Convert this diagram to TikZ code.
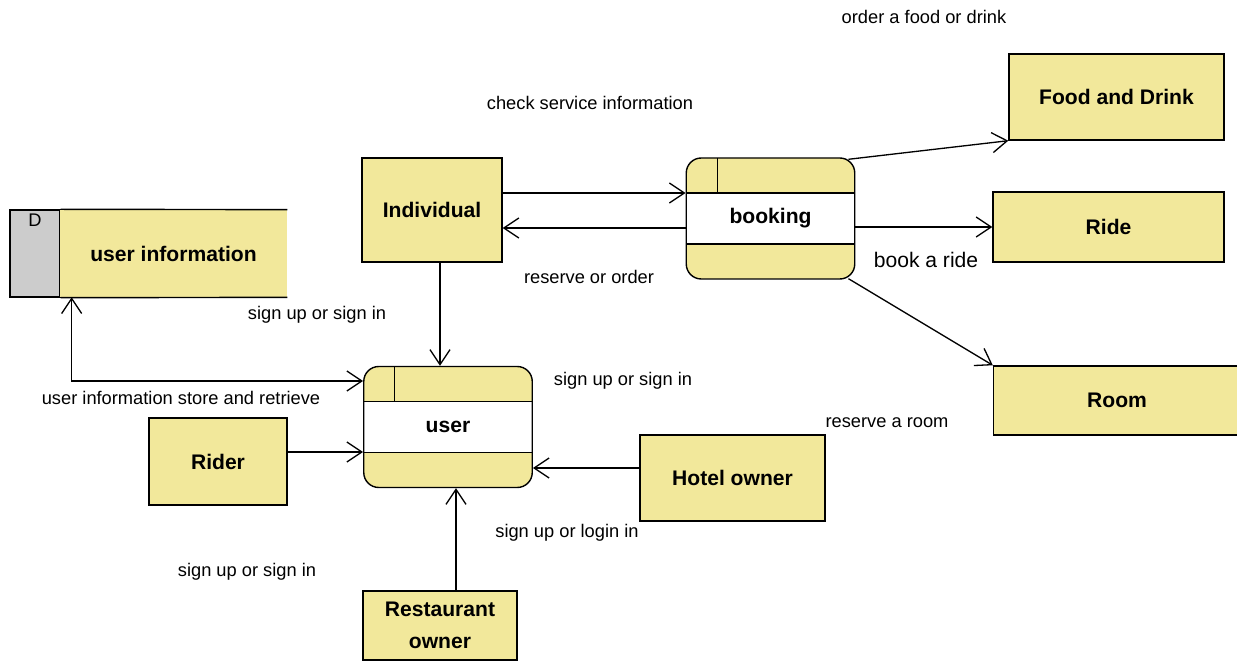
\documentclass[tikz,border=0pt]{standalone}
\usepackage{fontspec}
\setmainfont{Liberation Sans}
\usepackage{xcolor}
\usepackage{tikz}
\usetikzlibrary{arrows.meta, positioning}

\definecolor{dfdyellow}{RGB}{242,232,155}
\definecolor{dfdgray}{RGB}{204,204,204}

\begin{document}
\begin{tikzpicture}[>={Straight Barb[length=3mm, width=4mm]}]
	% Styles
	\tikzstyle{entity} = [draw, fill=dfdyellow, rectangle, line width=0.8pt, align=center, font=\fontsize{12}{18.5}\selectfont\bfseries]
	\tikzstyle{process} = [entity, rounded corners=0.3cm, minimum width=3.37cm, minimum height=2.42cm, text height=0.32cm, text depth=0.1cm,
		path picture={
			\draw[sharp corners, line width=0.8pt, fill=white] ([yshift=0.51cm]path picture bounding box.west) rectangle ([yshift=-0.51cm]path picture bounding box.east);
			\draw[sharp corners, line width=0.8pt] ([xshift=0.62cm]path picture bounding box.north west) -- ([xshift=0.62cm,yshift=0.51cm]path picture bounding box.west);
		}]
	\tikzstyle{flow} = [font=\fontsize{10.4}{12}\selectfont, inner sep=1pt]
	\tikzstyle{arrow} = [line width=0.75pt, ->]

	\useasboundingbox (0, 0) rectangle (24.74, 13.22);

	% Data store
	\node (storeid) [draw, fill=dfdgray, line width=0.8pt, minimum width=1cm, minimum height=1.74cm] at (0.7, 8.15) {};
	\node (storetag) [below=0.05cm of storeid.north, flow] {D};
	\node (store) [fill=dfdyellow, minimum width=4.54cm, minimum height=1.74cm, font=\fontsize{12}{15}\selectfont\bfseries] at (3.47, 8.15) {user information};
	\draw [line width=0.8pt] (storeid.north east) -- (store.north east);
	\draw [line width=0.8pt] (storeid.south east) -- (store.south east);

	% Processes
	\node (booking) [process] at (15.41, 8.85) {booking};
	\node (user) [process] at (8.96, 4.68) {user};

	% External entities
	\node (individual) [entity, minimum width=2.8cm, minimum height=2.08cm] at (8.64, 9.02) {Individual};
	\node (food) [entity, minimum width=4.3cm, minimum height=1.72cm] at (22.33, 11.28) {Food and Drink};
	\node (ride) [entity, minimum width=4.62cm, minimum height=1.4cm] at (22.17, 8.68) {Ride};
	\node (room) [entity, minimum width=4.94cm, minimum height=1.38cm] at (22.34, 5.21) {Room};
	\node (rider) [entity, minimum width=2.76cm, minimum height=1.74cm] at (4.36, 3.99) {Rider};
	\node (hotel) [entity, minimum width=3.7cm, minimum height=1.72cm] at (14.65, 3.66) {Hotel owner};
	\node (restaurant) [entity, minimum width=3.08cm, minimum height=1.38cm] at (8.8, 0.71) {Restaurant\\owner};

	% Connections
	\draw [arrow] ([yshift=0.34cm]individual.east) -- ([yshift=0.34cm]individual.east -| booking.west);
	\draw [arrow] ([yshift=-0.19cm]booking.west) -- ([yshift=-0.19cm]booking.west -| individual.east);
	\draw [arrow] ([shift={(-0.14,-0.04)}]booking.north east) -- (food.south west);
	\draw [arrow] (booking.east |- ride.west) -- (ride.west);
	\draw [arrow] ([shift={(-0.14,0.02)}]booking.south east) -- (room.north west);
	\draw [arrow] ([xshift=0.16cm]individual.south) -- ([xshift=0.16cm]individual.south |- user.north);
	\draw [arrow, <->] ([xshift=0.24cm]store.south west) |- ([yshift=0.92cm]user.west);
	\draw [arrow] ([yshift=0.19cm]rider.east) -- ([yshift=0.19cm]rider.east -| user.west);
	\draw [arrow] ([yshift=0.2cm]hotel.west) -- ([yshift=0.2cm]hotel.west -| user.east);
	\draw [arrow] ([xshift=0.32cm]restaurant.north) -- ([xshift=0.32cm]restaurant.north |- user.south);

	% Flow labels
	\node (lblfood) [flow] at (18.48, 12.88) {order a food or drink};
	\node (lblcheck) [flow] at (11.8, 11.16) {check service information};
	\node (lblreserve) [flow] at (11.78, 7.68) {reserve or order};
	\node (lblride) [flow, font=\fontsize{12}{14}\selectfont] at (18.52, 8.02) {book a ride};
	\node (lblindiv) [flow] at (6.34, 6.92) {sign up or sign in};
	\node (lblstore) [flow] at (3.62, 5.26) {user information store and retrieve};
	\node (lblsign) [flow] at (12.46, 5.6) {sign up or sign in};
	\node (lblroom) [flow] at (17.74, 4.76) {reserve a room};
	\node (lblhotel) [flow] at (11.34, 2.56) {sign up or login in};
	\node (lblrider) [flow] at (4.94, 1.78) {sign up or sign in};

\end{tikzpicture}
\end{document}
